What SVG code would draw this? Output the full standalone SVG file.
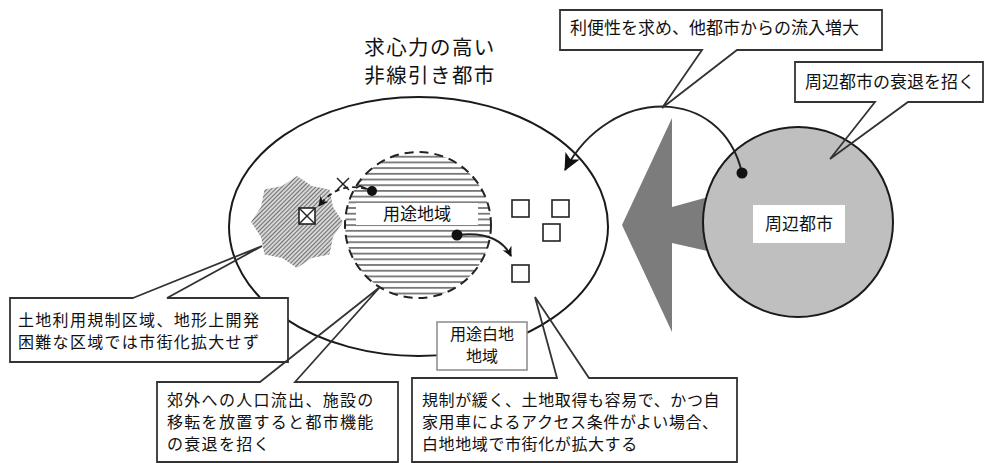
<svg xmlns="http://www.w3.org/2000/svg" width="984" height="463" viewBox="0 0 984 463">
<defs>
<style>
.t{font-family:"Noto Sans CJK JP","Noto Sans",sans-serif;fill:#111;}
.s{font-size:16px;letter-spacing:1.3px;}
.box{fill:#fff;stroke:none;}
.bd{fill:none;stroke:#333;stroke-width:1.8;stroke-linejoin:miter;}
.ln{fill:none;stroke:#222;stroke-width:2;}
.sq{fill:#fff;stroke:#222;stroke-width:1.6;}
</style>
<pattern id="hz" width="8" height="5.7" patternUnits="userSpaceOnUse">
<rect width="8" height="5.7" fill="#fff"/>
<line x1="0" y1="2.8" x2="8" y2="2.8" stroke="#6e6e6e" stroke-width="1.7"/>
</pattern>
<pattern id="dg" width="3" height="3" patternUnits="userSpaceOnUse" patternTransform="rotate(45)">
<rect width="3" height="3" fill="#d6d6d6"/>
<line x1="1.5" y1="0" x2="1.5" y2="3" stroke="#707070" stroke-width="1"/>
</pattern>
<marker id="ah" markerWidth="18" markerHeight="16" refX="16" refY="8" orient="auto" markerUnits="userSpaceOnUse">
<path d="M0,0 L17,8 L0,16 L4,8 Z" fill="#111"/>
</marker>
<marker id="ahs" markerWidth="10" markerHeight="10" refX="9" refY="5" orient="auto" markerUnits="userSpaceOnUse">
<path d="M0,0 L10,5 L0,10 L3,5 Z" fill="#111"/>
</marker>
</defs>

<g id="title">
<text class="t" x="430" y="55" font-size="20.5" letter-spacing="1.4" text-anchor="middle">求心力の高い</text>
<text class="t" x="430" y="82.5" font-size="20.5" letter-spacing="1.4" text-anchor="middle">非線引き都市</text>
</g>

<g id="main-city">
<ellipse cx="418.5" cy="226.5" rx="189.5" ry="129.5" fill="#fff" stroke="#1a1a1a" stroke-width="2"/>
</g>

<g id="restricted-area">
<polygon points="343,222 333,236.9 329.5,254.5 311.9,258 297,268 282.1,258 264.5,254.5 261,236.9 251,222 261,207.1 264.5,189.5 282.1,186 297,176 311.9,186 329.5,189.5 333,207.1" fill="url(#dg)" stroke="none"/>
<rect x="299" y="208" width="16" height="16" fill="#fff" stroke="#222" stroke-width="1.6"/>
<line x1="299" y1="208" x2="315" y2="224" stroke="#222" stroke-width="1.4"/>
<line x1="315" y1="208" x2="299" y2="224" stroke="#222" stroke-width="1.4"/>
</g>

<g id="youto-area">
<circle cx="418" cy="225" r="73" fill="url(#hz)"/>
<circle cx="418" cy="225" r="73" fill="none" stroke="#222" stroke-width="2" stroke-dasharray="9,6"/>
<rect x="356" y="203" width="122" height="22" fill="#fff"/>
<text class="t" x="417" y="220" font-size="17" text-anchor="middle">用途地域</text>
</g>

<g id="squares">
<rect class="sq" x="512" y="200" width="17" height="17"/>
<rect class="sq" x="552" y="200" width="17" height="17"/>
<rect class="sq" x="543" y="224" width="17" height="17"/>
<rect class="sq" x="512" y="265" width="17" height="17"/>
</g>

<g id="gray-arrow">
<polygon points="622,225 672,118 672,207 712,196 712,252 672,243 672,332" fill="#7c7c7c"/>
</g>

<g id="neighbor-city">
<circle cx="798" cy="222" r="95" fill="#bfbfbf" stroke="#1a1a1a" stroke-width="2"/>
<rect x="753" y="205" width="92" height="38" fill="#fff"/>
<text class="t" x="799" y="230" font-size="17" text-anchor="middle">周辺都市</text>
</g>

<g id="connectors">
<path d="M742,173 C722,85 610,85 565,170" class="ln" stroke-width="2.8" marker-end="url(#ah)"/>
<circle cx="742" cy="173" r="5.5" fill="#111"/>
<path d="M457,235 C482,232 502,238 511,256" class="ln" stroke-width="2.8" marker-end="url(#ahs)"/>
<circle cx="457" cy="235" r="5.5" fill="#111"/>
<path d="M366,189 Q338,181 319,206" fill="none" stroke="#222" stroke-width="1.8" stroke-dasharray="5,4" marker-end="url(#ahs)"/>
<path d="M372,191 L360,186 L356,188" fill="none" stroke="#222" stroke-width="1.6"/>
<circle cx="372" cy="191" r="5" fill="#111"/>
<line x1="337" y1="178" x2="349" y2="190" stroke="#222" stroke-width="1.5"/>
<line x1="349" y1="178" x2="337" y2="190" stroke="#222" stroke-width="1.5"/>
</g>

<g id="callout-inflow">
<rect class="box" x="560" y="10" width="322" height="40"/>
<path class="bd" d="M702,50 L662,108 L737,50 L882,50 L882,10 L560,10 L560,50 Z"/>
<text class="t" x="570" y="34" font-size="17">利便性を求め、他都市からの流入増大</text>
</g>

<g id="callout-decline">
<rect class="box" x="795" y="62" width="188" height="40"/>
<path class="bd" d="M875,102 L830,159 L908,102 L983,102 L983,62 L795,62 L795,102 Z"/>
<text class="t" x="805" y="88" font-size="17">周辺都市の衰退を招く</text>
</g>

<g id="callout-restricted">
<rect class="box" x="10" y="298" width="278" height="64"/>
<path class="bd" d="M133,298 L262,246 L167,298 L288,298 L288,362 L10,362 L10,298 Z"/>
<text class="t s" x="18" y="326">土地利用規制区域、地形上開発</text>
<text class="t s" x="18" y="348">困難な区域では市街化拡大せず</text>
</g>

<g id="callout-suburb">
<rect class="box" x="157" y="382" width="241" height="80"/>
<path class="bd" d="M260,382 L380,287 L295,382 L398,382 L398,462 L157,462 L157,382 Z"/>
<text class="t s" x="167" y="406">郊外への人口流出、施設の</text>
<text class="t s" x="167" y="428">移転を放置すると都市機能</text>
<text class="t s" x="167" y="450">の衰退を招く</text>
</g>

<g id="label-shirochi">
<rect x="437" y="322" width="90" height="48" fill="#fff" stroke="#8a8a8a" stroke-width="1.5"/>
<text class="t" x="482" y="340" font-size="16" text-anchor="middle">用途白地</text>
<text class="t" x="482" y="362" font-size="16" text-anchor="middle">地域</text>
</g>

<g id="callout-shirochi">
<rect class="box" x="412" y="378" width="325" height="84"/>
<path class="bd" d="M557,378 L535,297 L589,378 L737,378 L737,462 L412,462 L412,378 Z"/>
<text class="t" x="422" y="406" font-size="16" letter-spacing="0.6">規制が緩く、土地取得も容易で、かつ自</text>
<text class="t" x="422" y="428" font-size="16" letter-spacing="0.6">家用車によるアクセス条件がよい場合、</text>
<text class="t" x="422" y="450" font-size="16" letter-spacing="0.6">白地地域で市街化が拡大する</text>
</g>
</svg>
